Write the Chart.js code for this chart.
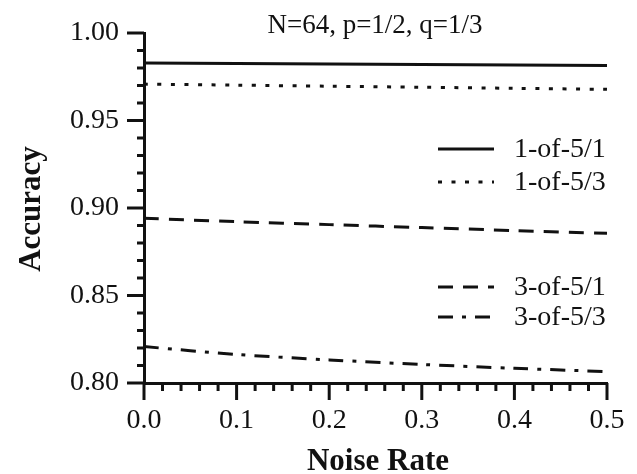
<!DOCTYPE html>
<html>
<head>
<meta charset="utf-8">
<script src="https://cdn.jsdelivr.net/npm/chart.js@4/dist/chart.umd.min.js"></script>
<style>
  html, body { margin: 0; padding: 0; background: #fff; }
  #wrap { width: 637px; height: 474px; }
</style>
</head>
<body>
<div id="wrap"><canvas id="accChart"></canvas></div>
<script>
// Данные
const noiseRates = [0.0, 0.1, 0.2, 0.3, 0.4, 0.5];
const seriesNames = ['1-of-5/1', '1-of-5/3', '3-of-5/1', '3-of-5/3'];
const acc1of5_1 = [0.9828, 0.9826, 0.9823, 0.9820, 0.9817, 0.9814];
const acc1of5_3 = [0.9708, 0.9702, 0.9696, 0.9690, 0.9684, 0.9678];
const acc3of5_1 = [0.8941, 0.8922, 0.8905, 0.8888, 0.8871, 0.8855];
const acc3of5_3 = [0.8208, 0.8163, 0.8132, 0.8106, 0.8084, 0.8065];
const titleText = 'N=64, p=1/2, q=1/3';
const xTitle = 'Noise Rate';
const yTitle = 'Accuracy';

const ink = '#111';
const serif = '"Liberation Serif", "Times New Roman", serif';
const dashes = [[], [4, 9.5], [15, 10], [15, 9, 4, 9]];

function toPoints(vals) {
    return vals.map((v, i) => ({ x: noiseRates[i], y: v }));
}

const allSeries = [acc1of5_1, acc1of5_3, acc3of5_1, acc3of5_3];
const datasets = allSeries.map((vals, i) => ({
    label: seriesNames[i],
    data: toPoints(vals),
    borderColor: ink,
    borderWidth: 3,
    borderDash: dashes[i],
    pointRadius: 0,
    fill: false,
    tension: 0.3
}));

// Деления осей, подписи осей, заголовок и легенда
const decorPlugin = {
    id: 'decor',
    afterDraw(chart) {
        const c = chart.ctx;
        const xs = chart.scales.x, ys = chart.scales.y;
        const left = chart.chartArea.left, bottom = chart.chartArea.bottom;
        c.save();
        c.strokeStyle = ink;
        c.lineWidth = 3;
        // деления по y: каждые 0.01, крупные каждые 0.05
        for (let k = 0; k <= 20; k++) {
            const py = ys.getPixelForValue(0.8 + k * 0.01);
            const len = k % 5 === 0 ? 17 : 7;
            c.beginPath();
            c.moveTo(left - len, py);
            c.lineTo(left, py);
            c.stroke();
        }
        // деления по x: каждые 0.02, крупные каждые 0.1
        for (let k = 0; k <= 25; k++) {
            const px = xs.getPixelForValue(k * 0.02);
            const len = k % 5 === 0 ? 17 : 8;
            c.beginPath();
            c.moveTo(px, bottom);
            c.lineTo(px, bottom + len);
            c.stroke();
        }
        // заголовок
        c.fillStyle = ink;
        c.textAlign = 'center';
        c.textBaseline = 'alphabetic';
        c.font = '27px ' + serif;
        c.fillText(titleText, 375, 33);
        // подписи осей
        c.font = 'bold 31px ' + serif;
        c.fillText(xTitle, 378, 470);
        c.save();
        c.translate(40, 209);
        c.rotate(-Math.PI / 2);
        c.fillText(yTitle, 0, 0);
        c.restore();
        // легенда
        const rows = [149, 182, 287, 317];
        c.font = '28px ' + serif;
        c.textAlign = 'left';
        c.textBaseline = 'middle';
        rows.forEach((ry, i) => {
            c.setLineDash(dashes[i]);
            c.lineWidth = 3;
            c.beginPath();
            c.moveTo(438, ry);
            c.lineTo(494, ry);
            c.stroke();
            c.setLineDash([]);
            c.fillText(seriesNames[i], 514, ry + 1);
        });
        c.restore();
    }
};

const chart = new Chart(document.getElementById('accChart').getContext('2d'), {
    type: 'line',
    data: { datasets },
    options: {
        responsive: true,
        maintainAspectRatio: false,
        animation: false,
        layout: { padding: { top: 33, right: 30, left: 0, bottom: 0 } },
        plugins: {
            legend: { display: false },
            tooltip: { enabled: false },
            title: { display: false }
        },
        scales: {
            x: {
                type: 'linear',
                min: 0,
                max: 0.5,
                afterFit: s => { s.height = 91; s.paddingLeft = 0; s.paddingRight = 0; },
                afterBuildTicks: s => { s.ticks = noiseRates.map(v => ({ value: v })); },
                ticks: {
                    color: ink,
                    font: { family: serif, size: 28 },
                    padding: 21,
                    maxRotation: 0,
                    callback: v => Number(v).toFixed(1)
                },
                grid: { display: true, drawOnChartArea: false, drawTicks: false },
                border: { display: true, color: ink, width: 3 }
            },
            y: {
                min: 0.8,
                max: 1.0,
                afterFit: s => { s.width = 144; s.paddingTop = 0; s.paddingBottom = 0; },
                ticks: {
                    stepSize: 0.05,
                    color: ink,
                    font: { family: serif, size: 28 },
                    padding: 25,
                    callback: v => Number(v).toFixed(2)
                },
                grid: { display: true, drawOnChartArea: false, drawTicks: false },
                border: { display: true, color: ink, width: 3 }
            }
        }
    },
    plugins: [decorPlugin]
});
</script>
</body>
</html>
